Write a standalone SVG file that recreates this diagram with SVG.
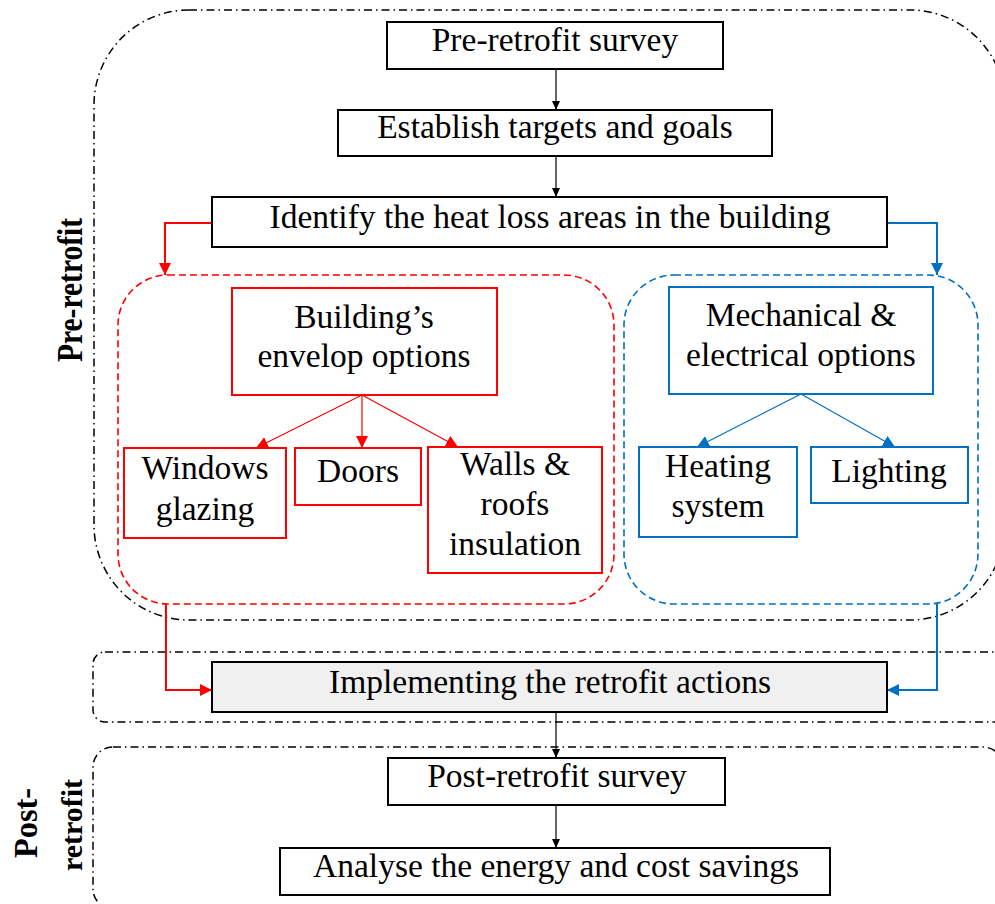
<svg xmlns="http://www.w3.org/2000/svg" width="995" height="904" viewBox="0 0 995 904">
  <style>
    .txt { font-family: "Liberation Serif", "Times New Roman", serif; font-size: 33.5px; fill: #000; text-anchor: middle; }
    .side { font-family: "Liberation Serif", "Times New Roman", serif; font-weight: bold; fill: #000; text-anchor: middle; }
    .box { fill: #fff; stroke: #000; stroke-width: 2; }
    .rbox { fill: #fff; stroke: #ff0000; stroke-width: 2; }
    .bbox { fill: #fff; stroke: #0070c0; stroke-width: 2; }
    .phase { fill: none; stroke: #000; stroke-width: 1.5; stroke-dasharray: 8 4 1.5 4; }
    .rgroup { fill: none; stroke: #ff0000; stroke-width: 1.6; stroke-dasharray: 7 4; }
    .bgroup { fill: none; stroke: #0070c0; stroke-width: 1.6; stroke-dasharray: 7 4; }
    .k { fill: none; stroke: #000; stroke-width: 1.2; }
    .r { fill: none; stroke: #ff0000; stroke-width: 1.2; }
    .b { fill: none; stroke: #0070c0; stroke-width: 1.2; }
    .r2 { fill: none; stroke: #ff0000; stroke-width: 2; }
    .b2 { fill: none; stroke: #0070c0; stroke-width: 2; }
  </style>
  <defs>
    <marker id="ak" markerUnits="userSpaceOnUse" markerWidth="10" markerHeight="10" refX="9" refY="4" orient="auto">
      <path d="M0,0 L9,4 L0,8 Z" fill="#000"/>
    </marker>
    <marker id="ar" markerUnits="userSpaceOnUse" markerWidth="14" markerHeight="14" refX="12" refY="6" orient="auto">
      <path d="M0,0 L12,6 L0,12 Z" fill="#ff0000"/>
    </marker>
    <marker id="ab" markerUnits="userSpaceOnUse" markerWidth="14" markerHeight="14" refX="12" refY="6" orient="auto">
      <path d="M0,0 L12,6 L0,12 Z" fill="#0070c0"/>
    </marker>
  </defs>

  <!-- phase frames -->
  <g id="phase-frames">
    <rect class="phase" x="94" y="10" width="911" height="610" rx="95" ry="95"/>
    <rect class="phase" x="93" y="652" width="920" height="70" rx="12" ry="12"/>
    <rect class="phase" x="93" y="747" width="910" height="162" rx="20" ry="20"/>
  </g>

  <!-- option groups -->
  <g id="envelope-group">
    <rect class="rgroup" x="118" y="275" width="496" height="329" rx="50" ry="50"/>
  </g>
  <g id="mech-group">
    <rect class="bgroup" x="624" y="275" width="354" height="329" rx="50" ry="50"/>
  </g>

  <!-- side labels -->
  <text class="side" font-size="36" transform="translate(82,290) rotate(-90) scale(0.82,1)">Pre-retrofit</text>
  <text class="side" font-size="34" transform="translate(37,823) rotate(-90) scale(0.95,1)">Post-</text>
  <text class="side" font-size="30" transform="translate(82,825) rotate(-90)">retrofit</text>

  <!-- connectors -->
  <g id="connectors">
    <line class="k" x1="556" y1="69" x2="556" y2="110" marker-end="url(#ak)"/>
    <line class="k" x1="556" y1="156" x2="556" y2="197" marker-end="url(#ak)"/>
    <line class="k" x1="556" y1="712" x2="556" y2="758" marker-end="url(#ak)"/>
    <line class="k" x1="556" y1="805" x2="556" y2="848" marker-end="url(#ak)"/>

    <path class="r2" d="M212,223 H165 V275" marker-end="url(#ar)"/>
    <path class="b2" d="M887,223 H937 V275" marker-end="url(#ab)"/>
    <path class="r2" d="M166,604 V690 H212" marker-end="url(#ar)"/>
    <path class="b2" d="M937,604 V690 H887" marker-end="url(#ab)"/>

    <line class="r" x1="362" y1="395" x2="256" y2="448" marker-end="url(#ar)"/>
    <line class="r" x1="362" y1="395" x2="362" y2="448" marker-end="url(#ar)"/>
    <line class="r" x1="362" y1="395" x2="458" y2="447" marker-end="url(#ar)"/>

    <line class="b" x1="801" y1="394" x2="697" y2="447" marker-end="url(#ab)"/>
    <line class="b" x1="801" y1="394" x2="895" y2="447" marker-end="url(#ab)"/>
  </g>

  <!-- process steps -->
  <g id="pre-survey">
    <rect class="box" x="387" y="22" width="336" height="47"/>
    <text class="txt" x="555" y="51">Pre-retrofit survey</text>
  </g>
  <g id="targets">
    <rect class="box" x="338" y="110" width="434" height="46"/>
    <text class="txt" x="555" y="138">Establish targets and goals</text>
  </g>
  <g id="heat-loss">
    <rect class="box" x="212" y="197" width="675" height="50"/>
    <text class="txt" x="550" y="228">Identify the heat loss areas in the building</text>
  </g>

  <g id="envelope">
    <rect class="rbox" x="232" y="288" width="265" height="107"/>
    <text class="txt" x="364" y="328">Building’s</text>
    <text class="txt" x="364" y="367">envelop options</text>
  </g>
  <g id="windows">
    <rect class="rbox" x="124" y="448" width="162" height="90"/>
    <text class="txt" x="205" y="479">Windows</text>
    <text class="txt" x="205" y="520">glazing</text>
  </g>
  <g id="doors">
    <rect class="rbox" x="295" y="448" width="126" height="57"/>
    <text class="txt" x="358" y="482">Doors</text>
  </g>
  <g id="walls">
    <rect class="rbox" x="428" y="447" width="174" height="126"/>
    <text class="txt" x="515" y="475">Walls &amp;</text>
    <text class="txt" x="515" y="515">roofs</text>
    <text class="txt" x="515" y="555">insulation</text>
  </g>

  <g id="mechanical">
    <rect class="bbox" x="669" y="287" width="264" height="107"/>
    <text class="txt" x="801" y="326">Mechanical &amp;</text>
    <text class="txt" x="801" y="366">electrical options</text>
  </g>
  <g id="heating">
    <rect class="bbox" x="639" y="447" width="158" height="90"/>
    <text class="txt" x="718" y="477">Heating</text>
    <text class="txt" x="718" y="517">system</text>
  </g>
  <g id="lighting">
    <rect class="bbox" x="811" y="447" width="157" height="56"/>
    <text class="txt" x="889" y="482">Lighting</text>
  </g>

  <g id="implement">
    <rect class="box" x="212" y="662" width="675" height="50" style="fill:#f0f0f0"/>
    <text class="txt" x="550" y="693">Implementing the retrofit actions</text>
  </g>
  <g id="post-survey">
    <rect class="box" x="388" y="758" width="337" height="47"/>
    <text class="txt" x="557" y="787">Post-retrofit survey</text>
  </g>
  <g id="savings">
    <rect class="box" x="280" y="848" width="550" height="47"/>
    <text class="txt" x="556" y="877">Analyse the energy and cost savings</text>
  </g>
</svg>
